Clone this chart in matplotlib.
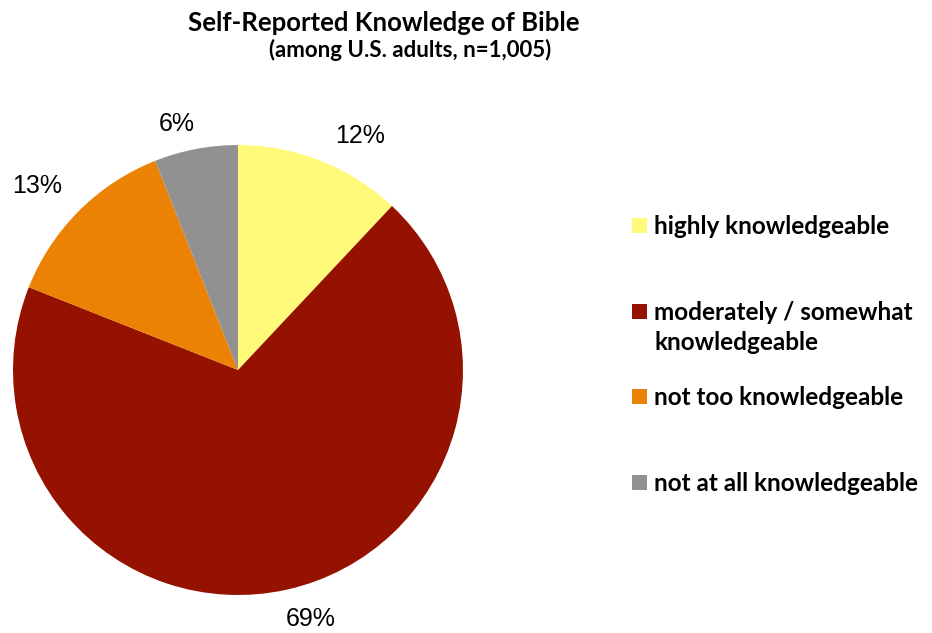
import matplotlib.pyplot as plt
from matplotlib.patches import Rectangle

categories = ['highly knowledgeable', 'moderately / somewhat\nknowledgeable',
              'not too knowledgeable', 'not at all knowledgeable']
shares = [12, 69, 13, 6]
colors = ['#FFFA7A', '#951200', '#EC8204', '#919191']

title = 'Self-Reported Knowledge of Bible'
subtitle = '(among U.S. adults, n=1,005)'

# where Excel put the % labels (pie radius units) and the legend rows (px from top)
label_xy = [(0.542, 1.04), (0.324, -1.107), (-0.893, 0.818), (-0.271, 1.093)]
legend_base = [236, 322, 407, 493]

fig = plt.figure(figsize=(9.32, 6.33), dpi=100)
ax = fig.add_axes([0.01395, 0.0600, 0.4828, 0.7109])

wedges, texts, autotexts = ax.pie(shares, colors=colors, startangle=90, counterclock=False,
                                  autopct='%d%%', pctdistance=1.17, radius=1,
                                  textprops={'fontsize': 18, 'family': 'Liberation Sans'})
for t, xy in zip(autotexts, label_xy):
    t.set_position(xy)
ax.set_xlim(-1, 1)
ax.set_ylim(-1, 1)
ax.set_aspect('equal')
ax.axis('off')

fig.text(384 / 932, 1 - 31 / 633, title, ha='center', va='baseline',
         fontsize=18.5, fontweight='bold', family='Lato')
fig.text(410 / 932, 1 - 57 / 633, subtitle, ha='center', va='baseline',
         fontsize=16, fontweight='bold', family='Lato')

# legend drawn by hand so the uneven Excel spacing can be matched
for lab, col, base in zip(categories, colors, legend_base):
    fig.patches.append(Rectangle((632 / 932, 1 - (base - 3) / 633), 15 / 932, 15 / 633,
                                 transform=fig.transFigure, facecolor=col, edgecolor='none'))
    fig.text(654 / 932, 1 - (base - 21) / 633, lab, ha='left', va='top', fontsize=17.5,
             fontweight='bold', family='Lato', linespacing=1.35)

fig.savefig('out.png', dpi=100)
